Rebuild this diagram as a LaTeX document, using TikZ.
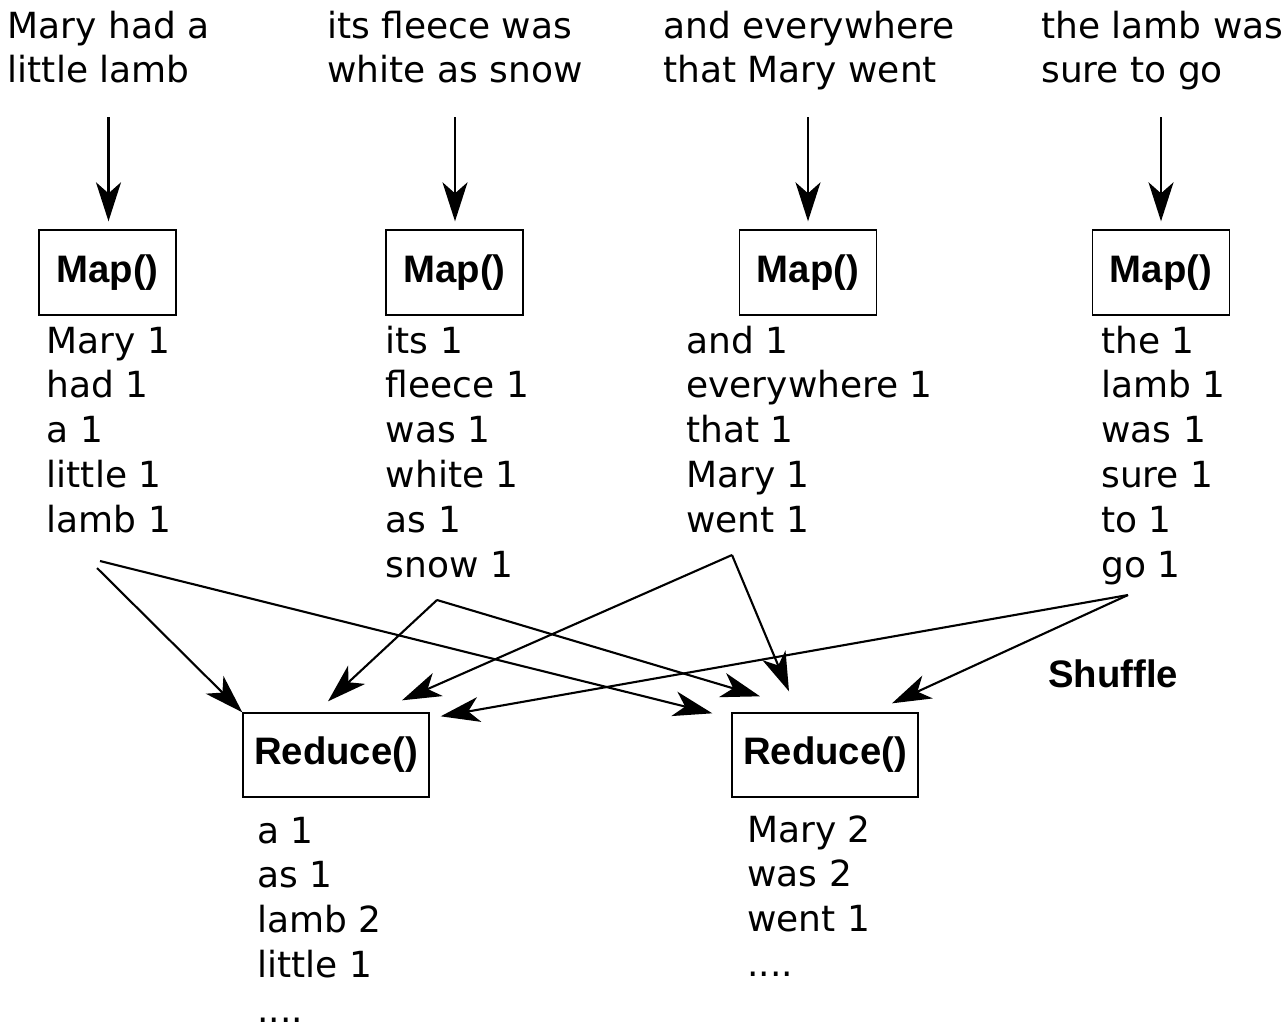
\documentclass[tikz,border=0pt]{standalone}
\usepackage{fontspec}
\setmainfont{DejaVu Sans}
\newfontfamily\labelfont{Liberation Sans}
\usetikzlibrary{arrows.meta,calc}

\newcommand\wordsize{\fontsize{20.48}{25.6}\selectfont}
\newcommand\wordlist[1]{\begin{tabular}[t]{@{}l@{}}#1\end{tabular}}

\tikzset{
  words/.style={anchor=base west, inner sep=0pt, font=\wordsize},
  funcbox/.style={draw, line width=0.8pt, inner sep=0pt,
    font=\labelfont\bfseries\fontsize{21.8}{26}\selectfont},
  mapbox/.style={funcbox, minimum width=2.74cm, minimum height=1.7cm},
  reducebox/.style={funcbox, minimum width=3.72cm, minimum height=1.68cm},
  flow/.style={line width=1.2pt, -{Stealth[length=0.78cm,width=0.5cm,inset=0.22cm]}},
}

\begin{document}
\begin{tikzpicture}[x=0.02cm, y=-0.02cm]
\useasboundingbox (0,0) rectangle (1281,1029);

% input splits
\node[words] (s1) at (7.5,38)    {\wordlist{Mary had a\\little lamb}};
\node[words] (s2) at (327,38)    {\wordlist{its fleece was\\white as snow}};
\node[words] (s3) at (663,38)    {\wordlist{and everywhere\\that Mary went}};
\node[words] (s4) at (1041,38)   {\wordlist{the lamb was\\sure to go}};

% map tasks
\node[mapbox] (m1) at (107.5,272.5) {Map()};
\node[mapbox] (m2) at (454.5,272.5) {Map()};
\node[mapbox] (m3) at (808,272.5)   {Map()};
\node[mapbox] (m4) at (1161,272.5)  {Map()};

\coordinate (t1) at (108.5,117);
\coordinate (t2) at (455,117);
\coordinate (t3) at (808,117);
\coordinate (t4) at (1161,117);
\foreach \i in {1,...,4}
  \draw[flow, shorten >=0.16cm] (t\i) -- (t\i |- m\i.north);

% map output
\node[words] (l1) at (46.5,353) {\wordlist{Mary 1\\had 1\\a 1\\little 1\\lamb 1}};
\node[words] (l2) at (385.5,353) {\wordlist{its 1\\fleece 1\\was 1\\white 1\\as 1\\snow 1}};
\node[words] (l3) at (686,353)  {\wordlist{and 1\\everywhere 1\\that 1\\Mary 1\\went 1}};
\node[words] (l4) at (1101,353) {\wordlist{the 1\\lamb 1\\was 1\\sure 1\\to 1\\go 1}};

% reduce tasks
\node[reducebox] (r1) at (336,755) {Reduce()};
\node[reducebox] (r2) at (825,755) {Reduce()};

\node[anchor=base west, inner sep=0pt,
  font=\labelfont\bfseries\fontsize{21.8}{26}\selectfont] (shuf) at (1048,687) {Shuffle};

% shuffle connectors
\coordinate (a1) at (100,561);
\coordinate (a2) at (97,568);
\coordinate (b)  at (437,600);
\coordinate (c)  at (732,555);
\coordinate (d)  at (1128,595);

\draw[flow] (a2) -- (r1.north west);
\draw[flow] (a1) -- ($(r2.north west)+(-19,1)$);
\draw[flow] (b)  -- ($(r1.north)+(-8,-11)$);
\draw[flow] (b)  -- ($(r2.north)+(-65,-16)$);
\draw[flow] (c)  -- ($(r1.north)+(66,-12)$);
\draw[flow] (c)  -- ($(r2.north)+(-36,-21)$);
\draw[flow] (d)  -- ($(r1.north east)+(11,4)$);
\draw[flow] (d)  -- ($(r2.north)+(67,-9)$);

% reduce output
\node[words] (o1) at (257,843)   {\wordlist{a 1\\as 1\\lamb 2\\little 1\\....}};
\node[words] (o2) at (747,842)   {\wordlist{Mary 2\\was 2\\went 1\\....}};
\end{tikzpicture}
\end{document}
